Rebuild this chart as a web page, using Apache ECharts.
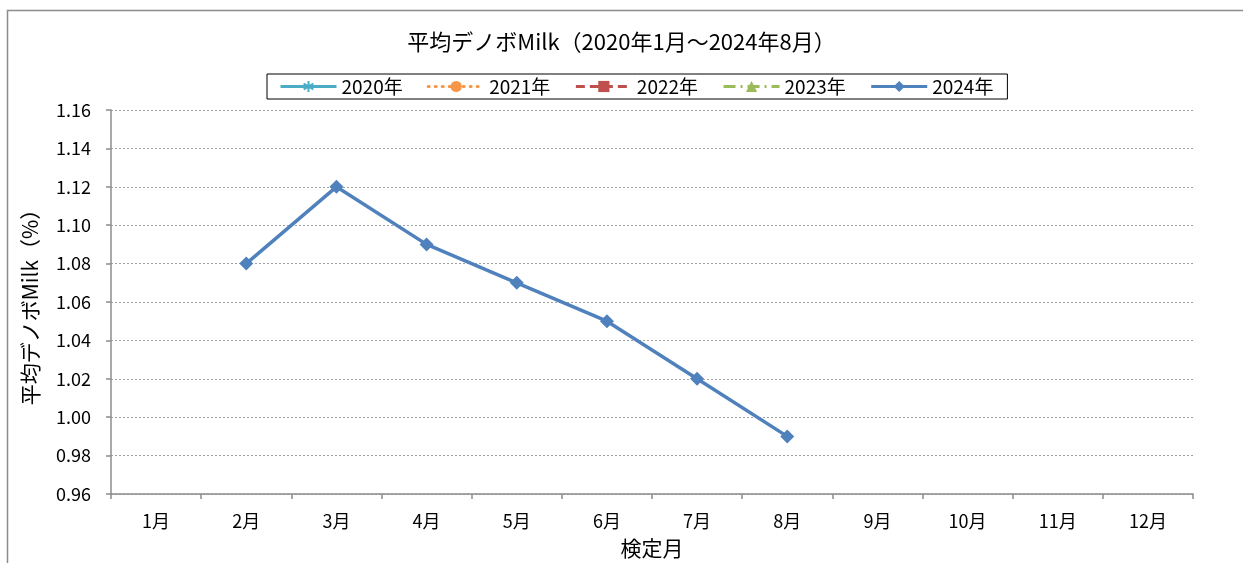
<!DOCTYPE html>
<html>
<head>
<meta charset="utf-8">
<script src="https://cdn.jsdelivr.net/npm/echarts@6/dist/echarts.min.js"></script>
<style>
  html, body { margin: 0; padding: 0; background: #fff; }
  #main { width: 1243px; height: 563px; }
</style>
</head>
<body>
<div id="main"></div>
<script>
var months = ['1月', '2月', '3月', '4月', '5月', '6月', '7月', '8月', '9月', '10月', '11月', '12月'];
var years = ['2020年', '2021年', '2022年', '2023年', '2024年'];
// 2020〜2023年はグラフ上に値なし
var v2020 = [];
var v2021 = [];
var v2022 = [];
var v2023 = [];
var v2024 = [null, 1.08, 1.12, 1.09, 1.07, 1.05, 1.02, 0.99, null, null, null, null];
var yTicks = [0.96, 0.98, 1.00, 1.02, 1.04, 1.06, 1.08, 1.10, 1.12, 1.14, 1.16];

var FONT = '"Noto Sans CJK JP", "Noto Sans", sans-serif';
var dom = document.getElementById('main');
var myChart = echarts.init(dom);

var starPath = 'path://M0,-10L0,10M-8.66,-5L8.66,5M-8.66,5L8.66,-5M-10,0L10,0';

option = {
    animation: false,
    backgroundColor: '#fff',
    textStyle: { fontFamily: FONT },
    title: {
        text: '平均デノボMilk（2020年1月～2024年8月）',
        left: 'center',
        top: 26,
        textStyle: { fontSize: 22, fontWeight: 'normal', color: '#000', fontFamily: FONT }
    },
    legend: {
        left: 267,
        top: 74,
        width: 760,
        padding: [3, 14, 3, 12],
        borderColor: '#000',
        borderWidth: 1,
        itemGap: 24,
        itemWidth: 56,
        itemHeight: 14,
        data: years,
        lineStyle: { width: 3 },
        textStyle: { fontSize: 19, color: '#000', fontFamily: FONT }
    },
    graphic: [{
        type: 'rect',
        shape: { x: 7.5, y: 10.5, width: 1260, height: 600 },
        style: { fill: 'none', stroke: '#8c8c8c', lineWidth: 1.5 },
        silent: true,
        z: -1
    }],
    grid: { left: 111, right: 50, top: 110, bottom: 69, outerBoundsMode: 'none', containLabel: false },
    xAxis: [{
        type: 'category',
        boundaryGap: true,
        data: months,
        name: '検定月',
        nameLocation: 'middle',
        nameGap: 44,
        nameTextStyle: { fontSize: 21, color: '#000', fontFamily: FONT },
        axisLine: { lineStyle: { color: '#8c8c8c', width: 1.5 } },
        axisTick: { show: true, length: 5, lineStyle: { color: '#8c8c8c', width: 1.5 } },
        axisLabel: { fontSize: 18, color: '#000', margin: 18, fontFamily: FONT },
        splitLine: { show: false }
    }],
    yAxis: [{
        type: 'value',
        min: 0.96,
        max: 1.16,
        interval: 0.02,
        name: '平均デノボMilk（%）',
        nameLocation: 'middle',
        nameGap: 70,
        nameRotate: 90,
        nameTextStyle: { fontSize: 21, color: '#000', fontFamily: FONT },
        axisLine: { show: true, lineStyle: { color: '#8c8c8c', width: 1.5 } },
        axisTick: { show: true, length: 5, lineStyle: { color: '#8c8c8c', width: 1.5 } },
        axisLabel: {
            fontSize: 18, color: '#000', margin: 20, fontFamily: FONT,
            formatter: function (v) { return v.toFixed(2); }
        },
        splitLine: { show: true, lineStyle: { color: '#a0a0a0', width: 1, type: [2, 2] } }
    }],
    series: [{
        name: '2020年',
        type: 'line',
        data: v2020,
        color: '#4BACC6',
        symbol: starPath,
        symbolSize: 13,
        lineStyle: { width: 4, color: '#4BACC6' },
        itemStyle: { color: '#4BACC6', borderColor: '#4BACC6', borderWidth: 2 }
    }, {
        name: '2021年',
        type: 'line',
        data: v2021,
        color: '#F79646',
        symbol: 'circle',
        symbolSize: 12,
        lineStyle: { width: 5, color: '#F79646', type: [1, 6], cap: 'round' },
        itemStyle: { color: '#F79646' }
    }, {
        name: '2022年',
        type: 'line',
        data: v2022,
        color: '#C0504D',
        symbol: 'rect',
        symbolSize: 13,
        lineStyle: { width: 4, color: '#C0504D', type: [9, 5] },
        itemStyle: { color: '#C0504D' }
    }, {
        name: '2023年',
        type: 'line',
        data: v2023,
        color: '#9BBB59',
        symbol: 'triangle',
        symbolSize: 13,
        lineStyle: { width: 4, color: '#9BBB59', type: [12, 5, 2, 5] },
        itemStyle: { color: '#9BBB59' }
    }, {
        name: '2024年',
        type: 'line',
        data: v2024,
        color: '#4F81BD',
        symbol: 'diamond',
        symbolSize: 14,
        showAllSymbol: true,
        connectNulls: false,
        lineStyle: { width: 3.5, color: '#4F81BD' },
        itemStyle: { color: '#4F81BD' }
    }]
};

if (option && typeof option === 'object') {
    myChart.setOption(option, true);
}
</script>
</body>
</html>
